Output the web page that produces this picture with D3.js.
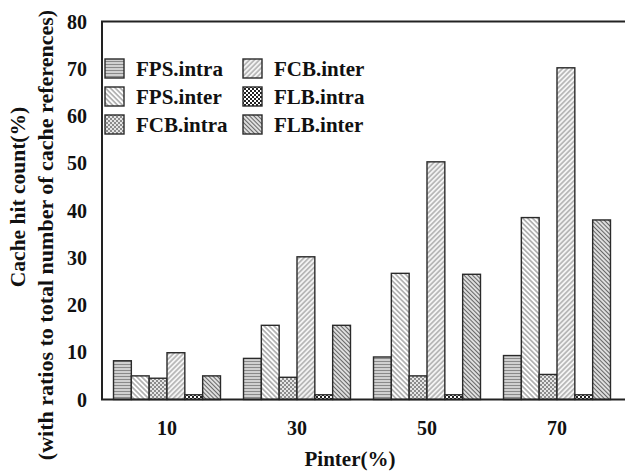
<!DOCTYPE html>
<html>
<head>
<meta charset="utf-8">
<script src="https://cdn.jsdelivr.net/npm/d3@7"></script>
<style>
body { margin: 0; background: #fff; }
text { font-family: "Liberation Serif", "Times New Roman", serif; font-weight: bold; fill: #111; }
</style>
</head>
<body>
<svg id="chart" width="625" height="472"></svg>
<script>
// categories (Pinter %)
var groups = ["10", "30", "50", "70"];
var seriesNames = ["FPS.intra", "FPS.inter", "FCB.intra", "FCB.inter", "FLB.intra", "FLB.inter"];

// cache hit count per series, one value per group
var fpsIntra = [8.2, 8.7, 9.0, 9.3];
var fpsInter = [5.0, 15.7, 26.7, 38.5];
var fcbIntra = [4.5, 4.7, 5.0, 5.3];
var fcbInter = [9.9, 30.2, 50.3, 70.2];
var flbIntra = [1.0, 1.0, 1.0, 1.0];
var flbInter = [5.0, 15.7, 26.5, 38.0];

var yTicks = [0, 10, 20, 30, 40, 50, 60, 70, 80];

var values = [fpsIntra, fpsInter, fcbIntra, fcbInter, flbIntra, flbInter];

var svg = d3.select("#chart");
var plotL = 102, plotT = 21.5, plotB = 399.5, plotR = 622;

// fill patterns
var defs = svg.append("defs");
function linePattern(id, bg, stroke, gap, angle, sw) {
  var p = defs.append("pattern").attr("id", id)
    .attr("patternUnits", "userSpaceOnUse")
    .attr("width", gap).attr("height", gap)
    .attr("patternTransform", "rotate(" + angle + ")");
  p.append("rect").attr("width", gap).attr("height", gap).attr("fill", bg);
  p.append("line").attr("x1", 0).attr("y1", gap / 2).attr("x2", gap).attr("y2", gap / 2)
    .attr("stroke", stroke).attr("stroke-width", sw);
}
function checkPattern(id, a, b, s) {
  var p = defs.append("pattern").attr("id", id)
    .attr("patternUnits", "userSpaceOnUse")
    .attr("width", s * 2).attr("height", s * 2);
  p.append("rect").attr("width", s * 2).attr("height", s * 2).attr("fill", a);
  p.append("rect").attr("width", s).attr("height", s).attr("fill", b);
  p.append("rect").attr("x", s).attr("y", s).attr("width", s).attr("height", s).attr("fill", b);
}
linePattern("p0", "#d0d0d0", "#8a8a8a", 3, 0, 1);
linePattern("p1", "#ffffff", "#7a7a7a", 3.5, 45, 1);
checkPattern("p2", "#e6e6e6", "#8c8c8c", 2);
linePattern("p3", "#f4f4f4", "#8a8a8a", 3.5, -45, 1);
checkPattern("p4", "#ffffff", "#222222", 2);
linePattern("p5", "#e4e4e4", "#666666", 3, 45, 1.1);

var x0 = d3.scaleBand().domain(groups).range([plotL, plotR]).paddingInner(0.177).paddingOuter(0.0885);
var x1 = d3.scaleBand().domain(seriesNames).range([0, x0.bandwidth()]);
var y = d3.scaleLinear().domain([0, 80]).range([plotB, plotT]);

// bars
seriesNames.forEach(function(name, i) {
  svg.append("g").selectAll("rect")
    .data(values[i])
    .enter().append("rect")
    .attr("x", function(d, j) { return x0(groups[j]) + x1(name); })
    .attr("y", function(d) { return y(d); })
    .attr("width", x1.bandwidth())
    .attr("height", function(d) { return plotB - y(d); })
    .attr("fill", "url(#p" + i + ")")
    .attr("stroke", "#2a2a2a")
    .attr("stroke-width", 1.4);
});

// frame: left, top, bottom
svg.append("path")
  .attr("d", "M625," + plotT + "H" + plotL + "V" + plotB + "H625")
  .attr("fill", "none").attr("stroke", "#222").attr("stroke-width", 2);

// y tick labels
svg.append("g").selectAll("text")
  .data(yTicks).enter().append("text")
  .attr("x", 87).attr("y", function(d) { return y(d); })
  .attr("dy", "0.35em").attr("text-anchor", "end")
  .attr("font-size", 20)
  .text(function(d) { return d; });

// x tick labels
svg.append("g").selectAll("text")
  .data(groups).enter().append("text")
  .attr("x", function(d) { return x0(d) + x0.bandwidth() / 2; })
  .attr("y", 435).attr("text-anchor", "middle")
  .attr("font-size", 20)
  .text(function(d) { return d; });

svg.append("text").attr("x", 350).attr("y", 466).attr("text-anchor", "middle")
  .attr("font-size", 21).text("Pinter(%)");

// y axis title
svg.append("text").attr("transform", "translate(25,197) rotate(-90)")
  .attr("text-anchor", "middle").attr("font-size", 21.5).text("Cache hit count(%)");
svg.append("text").attr("transform", "translate(53,235) rotate(-90)")
  .attr("text-anchor", "middle").attr("font-size", 22).text("(with ratios to total number of cache references)");

// legend
var legend = svg.append("g");
seriesNames.forEach(function(name, i) {
  var col = Math.floor(i / 3), row = i % 3;
  var lx = 105 + col * 138, ly = 59 + row * 28;
  legend.append("rect").attr("x", lx).attr("y", ly).attr("width", 19).attr("height", 19)
    .attr("fill", "url(#p" + i + ")").attr("stroke", "#2a2a2a").attr("stroke-width", 1.4);
  legend.append("text").attr("x", lx + 31).attr("y", ly + 10).attr("dy", "0.35em")
    .attr("font-size", 21).text(name);
});
</script>
</body>
</html>
